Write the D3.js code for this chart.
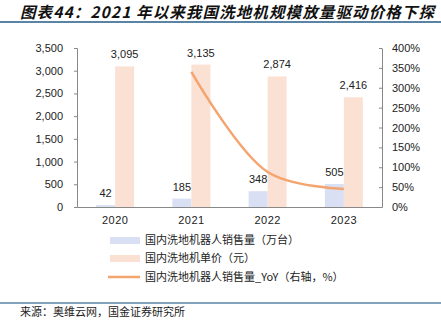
<!DOCTYPE html>
<html><head><meta charset="utf-8">
<script src="https://cdn.jsdelivr.net/npm/d3@7"></script>
<style>
body{margin:0;background:#fff;}
svg{display:block;}
</style></head>
<body>
<svg id="c" width="441" height="323"></svg>
<script>
const years = ["2020","2021","2022","2023"];
const sales = [42,185,348,505];
const prices = [3095,3135,2874,2416];
const yoyYears = ["2021","2022","2023"];
const yoy = [3.40,0.88,0.45];
const leftTicks = [0,500,1000,1500,2000,2500,3000,3500];
const rightTicks = [0,0.5,1,1.5,2,2.5,3,3.5,4];
const legendLabels = ["国内洗地机器人销售量（万台）","国内洗地机单价（元）","国内洗地机器人销售量_YoY（右轴，%）"];

const svg = d3.select("#c");
const font = "Liberation Sans, Arial, sans-serif";
const cjk = "'Noto Sans CJK SC', sans-serif";
const blue = "#d9e0f3", pink = "#fbe1d3", orange = "#f4a46f";

// title
svg.append("text").attr("x",20).attr("y",18)
  .attr("font-family",cjk).attr("font-size",15.5).attr("font-weight","bold")
  .attr("font-style","italic").attr("fill","#111")
  .attr("textLength",414).attr("lengthAdjust","spacing")
  .text("图表44：2021 年以来我国洗地机规模放量驱动价格下探");
svg.append("line").attr("x1",0).attr("x2",441).attr("y1",22).attr("y2",22)
  .attr("stroke","#5a84a6").attr("stroke-width",2);

const x = d3.scaleBand().domain(years).range([77,382]);
const yL = d3.scaleLinear().domain([0,3500]).range([207,48]);
const yR = d3.scaleLinear().domain([0,4]).range([207,48]);
const bw = 19;

// axes
const axL = svg.append("g").attr("transform","translate(77,0)")
  .call(d3.axisLeft(yL).tickValues(leftTicks).tickSize(3).tickPadding(11).tickFormat(d3.format(",")));
const axR = svg.append("g").attr("transform","translate(382,0)")
  .call(d3.axisRight(yR).tickValues(rightTicks).tickSize(0).tickPadding(10).tickFormat(d3.format(".0%")));
axR.selectAll(".tick").append("line").attr("x1",-3).attr("x2",0).attr("stroke","#888");
const axB = svg.append("g").attr("transform","translate(0,207)")
  .call(d3.axisBottom(x).tickSize(0).tickPadding(9));
[axL,axR,axB].forEach(a=>{
  a.selectAll("path").attr("stroke","#888");
  a.selectAll(".tick line").attr("stroke","#888");
  a.selectAll("text").attr("font-family",font).attr("font-size",11).attr("fill","#222");
});
axB.selectAll("text").attr("letter-spacing","0.5px");

// bars
svg.append("g").selectAll("rect").data(years).join("rect")
  .attr("x",d=>x(d)+x.bandwidth()/2-bw).attr("width",bw)
  .attr("y",(d,i)=>yL(sales[i])).attr("height",(d,i)=>yL(0)-yL(sales[i]))
  .attr("fill",blue);
svg.append("g").selectAll("rect").data(years).join("rect")
  .attr("x",d=>x(d)+x.bandwidth()/2).attr("width",bw)
  .attr("y",(d,i)=>yL(prices[i])).attr("height",(d,i)=>yL(0)-yL(prices[i]))
  .attr("fill",pink);

// labels
svg.append("g").selectAll("text").data(years).join("text")
  .attr("x",d=>x(d)+x.bandwidth()/2-bw/2).attr("y",(d,i)=>yL(sales[i])-8)
  .attr("text-anchor","middle").attr("font-family",font).attr("font-size",11).attr("fill","#222")
  .text((d,i)=>d3.format(",")(sales[i]));
svg.append("g").selectAll("text").data(years).join("text")
  .attr("x",d=>x(d)+x.bandwidth()/2+bw/2).attr("y",(d,i)=>yL(prices[i])-8)
  .attr("text-anchor","middle").attr("font-family",font).attr("font-size",11).attr("fill","#222")
  .text((d,i)=>d3.format(",")(prices[i]));

// line
const line = d3.line().x((d,i)=>x(yoyYears[i])+x.bandwidth()/2).y(d=>yR(d))
  .curve(d3.curveCatmullRom.alpha(0.5));
svg.append("path").datum(yoy).attr("d",line).attr("fill","none")
  .attr("stroke",orange).attr("stroke-width",2.5);

// legend
const lg = svg.append("g");
const ly = [240,258,277];
lg.append("rect").attr("x",110).attr("y",ly[0]-3).attr("width",30).attr("height",7).attr("fill",blue);
lg.append("rect").attr("x",110).attr("y",ly[1]-3).attr("width",30).attr("height",7).attr("fill",pink);
lg.append("line").attr("x1",108).attr("x2",140).attr("y1",ly[2]).attr("y2",ly[2]).attr("stroke",orange).attr("stroke-width",2.5);
lg.selectAll("text").data(legendLabels).join("text")
  .attr("x",145).attr("y",(d,i)=>ly[i]+4).attr("font-family",cjk).attr("font-size",11).attr("fill","#222")
  .text(d=>d);

// footer
svg.append("line").attr("x1",0).attr("x2",441).attr("y1",303).attr("y2",303)
  .attr("stroke","#5a84a6").attr("stroke-width",1.5);
svg.append("text").attr("x",20).attr("y",316).attr("font-family",cjk).attr("font-size",11).attr("fill","#222")
  .text("来源：奥维云网，国金证券研究所");
</script>
</body></html>
